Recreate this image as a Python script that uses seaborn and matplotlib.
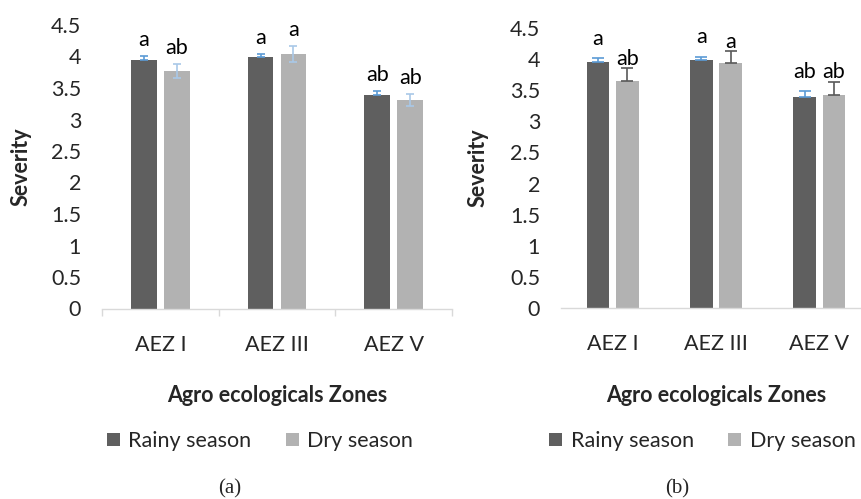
import matplotlib
matplotlib.use("Agg")
import matplotlib.pyplot as plt
from matplotlib.patches import Patch
from matplotlib.container import BarContainer
import seaborn as sns
import pandas as pd

zones = ["AEZ I", "AEZ III", "AEZ V"]
seasons = ["Rainy season", "Dry season"]

a_rainy = [3.94, 3.99, 3.39]
a_rainy_err = [0.07, 0.05, 0.07]
a_dry = [3.77, 4.04, 3.31]
a_dry_err = [0.11, 0.12, 0.10]
a_rainy_letters = ["a", "a", "ab"]
a_dry_letters = ["ab", "a", "ab"]

b_rainy = [3.95, 3.99, 3.39]
b_rainy_err = [0.06, 0.05, 0.09]
b_dry = [3.65, 3.93, 3.42]
b_dry_err = [0.20, 0.20, 0.22]
b_rainy_letters = ["a", "a", "ab"]
b_dry_letters = ["ab", "a", "ab"]

y_ticks = [0, 0.5, 1, 1.5, 2, 2.5, 3, 3.5, 4, 4.5]
x_title = "Agro ecologicals Zones"
y_title = "Severity"

sns.set_theme(style="white")
plt.rcParams["font.family"] = ["Lato", "DejaVu Sans"]

RAINY = "#5F5F5F"
DRY = "#B2B2B2"
AXC = "#D9D9D9"
FS = 15.5

W, H = 861, 499
fig = plt.figure(figsize=(W / 100, H / 100), dpi=100)
ax1 = fig.add_axes([102 / W, 190.5 / H, 350 / W, 283.5 / H])
ax2 = fig.add_axes([561 / W, 191 / H, 310 / W, 280 / H])


def panel(ax, rainy, rainy_err, dry, dry_err, rl, dl, err_cols, dry_both, offs, capsize, ticks):
    df = pd.DataFrame({
        "zone": zones * 2,
        "season": [seasons[0]] * 3 + [seasons[1]] * 3,
        "value": rainy + dry,
    })
    sns.barplot(data=df, x="zone", y="value", hue="season", order=zones,
                hue_order=seasons, palette=[RAINY, DRY], width=0.565, gap=0.22,
                errorbar=None, legend=False, linewidth=0, ax=ax)
    bar_conts = [c for c in ax.containers if isinstance(c, BarContainer)]
    errs = [rainy_err, dry_err]
    letters = [rl, dl]
    for i, cont in enumerate(bar_conts):
        xs = [p.get_x() + p.get_width() / 2 for p in cont.patches]
        hs = [p.get_height() for p in cont.patches]
        e = errs[i]
        lower = e if (i == 1 and dry_both) else [0] * len(e)
        ax.errorbar(xs, hs, yerr=[lower, e], fmt="none", ecolor=err_cols[i],
                    elinewidth=1.2, capsize=capsize, capthick=1.2, zorder=3)
        for x, h, ee, t in zip(xs, hs, e, letters[i]):
            ax.annotate(t, (x, h + ee), xytext=(0, offs[i]), textcoords="offset points",
                        ha="center", va="baseline", fontsize=FS, color="black")
    ax.set_ylim(0, 4.5)
    ax.set_xlim(-0.5, 2.5)
    ax.set_yticks(y_ticks)
    ax.set_yticklabels([f"{v:g}" for v in y_ticks], fontsize=FS)
    ax.tick_params(axis="y", length=0, pad=15)
    ax.tick_params(axis="x", which="major", length=0, pad=19, labelsize=FS)
    if ticks:
        ax.set_xticks([-0.5, 0.5, 1.5, 2.5], minor=True)
        ax.tick_params(axis="x", which="minor", length=5, width=1, color=AXC, bottom=True)
    for s in ["top", "right", "left"]:
        ax.spines[s].set_visible(False)
    ax.spines["bottom"].set_color(AXC)
    ax.spines["bottom"].set_linewidth(1)
    ax.set_xlabel(x_title, fontsize=FS, fontweight="bold")
    ax.set_ylabel(y_title, fontsize=FS, fontweight="bold")
    ax.grid(False)


panel(ax1, a_rainy, a_rainy_err, a_dry, a_dry_err, a_rainy_letters, a_dry_letters,
      ["#5B9BD5", "#A9C8E8"], True, [7.2, 7.2], 2.9, True)
panel(ax2, b_rainy, b_rainy_err, b_dry, b_dry_err, b_rainy_letters, b_dry_letters,
      ["#5B9BD5", "#595959"], False, [9.5, 2.5], 4.0, False)

ax1.xaxis.set_label_coords(0.5, -0.27)
ax2.xaxis.set_label_coords(0.5, -0.275)
ax1.yaxis.set_label_coords(-0.2, 0.5)
ax2.yaxis.set_label_coords(-0.235, 0.5)

handles = [Patch(facecolor=RAINY, edgecolor="none"), Patch(facecolor=DRY, edgecolor="none")]
for cx in [260, 702.5]:
    fig.legend(handles, seasons, loc="center", bbox_to_anchor=(cx / W, 1 - 441 / H),
               ncol=2, frameon=False, fontsize=FS, handlelength=0.6, handleheight=0.6,
               handletextpad=0.4, columnspacing=1.6, borderpad=0, borderaxespad=0)

fig.text(230 / W, 1 - 489 / H, "(a)", ha="center", va="center", fontsize=15,
         family=["Liberation Serif", "DejaVu Serif"])
fig.text(677 / W, 1 - 489 / H, "(b)", ha="center", va="center", fontsize=15,
         family=["Liberation Serif", "DejaVu Serif"])

fig.savefig("out.png", dpi=100, facecolor="white")
